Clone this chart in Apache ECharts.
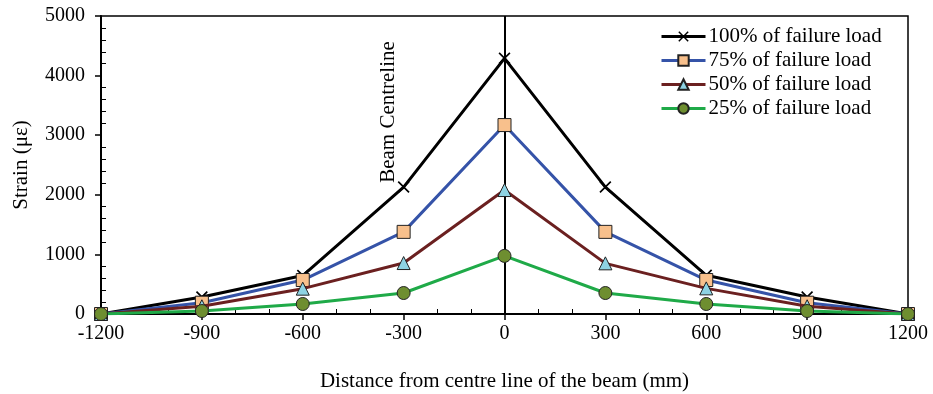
<!DOCTYPE html>
<html><head><meta charset="utf-8">
<script src="https://cdn.jsdelivr.net/npm/echarts@6/dist/echarts.min.js"></script>
<style>html,body{margin:0;padding:0;background:#fff}#c{width:933px;height:394px}</style>
</head><body><div id="c"></div>
<script>
const xValues = [-1200, -900, -600, -300, 0, 300, 600, 900, 1200];
const load100 = [0, 285, 645, 2130, 4290, 2130, 650, 285, 0];
const load75  = [0, 190, 570, 1378, 3170, 1378, 570, 190, 0];
const load50  = [0, 130, 425, 855, 2080, 850, 430, 130, 0];
const load25  = [0, 50, 168, 352, 975, 352, 168, 50, 0];
const seriesNames = ['100% of failure load','75% of failure load','50% of failure load','25% of failure load'];
const xTitle = 'Distance from centre line of the beam (mm)';
const yTitle = 'Strain (\u03bc\u03b5)';
const centreLabel = 'Beam Centreline';

const FONT = 'Liberation Serif';
const pair = arr => xValues.map((x,i)=>[x,arr[i]]);
const cross = 'path://M0,1L1,0L5,4L9,0L10,1L6,5L10,9L9,10L5,6L1,10L0,9L4,5Z';
const plain = v => String(v);

const chart = echarts.init(document.getElementById('c'));
chart.setOption({
  animation:false,
  grid:{left:101,right:25,top:16,bottom:80,outerBoundsMode:'none',containLabel:false,show:true,borderColor:'#000',borderWidth:1.5,backgroundColor:'transparent'},
  legend:{
    left:655, top:21, orient:'vertical', itemGap:3, itemWidth:44, itemHeight:13,
    lineStyle:{width:3},
    textStyle:{fontFamily:FONT,fontSize:21,color:'#000',padding:[0,0,0,-2]},
    data:seriesNames
  },
  xAxis:{
    type:'value', min:-1200, max:1200, interval:300,
    name:xTitle, nameLocation:'middle', nameGap:57,
    nameTextStyle:{fontFamily:FONT,fontSize:21,color:'#000'},
    axisLine:{onZero:false,lineStyle:{color:'#000',width:2}},
    axisTick:{show:true,length:6,lineStyle:{color:'#000',width:1.5}},
    minorTick:{show:true,splitNumber:3,length:-5,lineStyle:{color:'#000',width:1}},
    axisLabel:{fontFamily:FONT,fontSize:20,color:'#000',margin:10,formatter:plain},
    splitLine:{show:false}
  },
  yAxis:{
    type:'value', min:0, max:5000, interval:1000,
    name:yTitle, nameLocation:'middle', nameGap:69,
    nameTextStyle:{fontFamily:FONT,fontSize:21,color:'#000'},
    axisLine:{onZero:false,lineStyle:{color:'#000',width:2}},
    axisTick:{show:true,length:6,lineStyle:{color:'#000',width:1.5}},
    minorTick:{show:true,splitNumber:5,length:-5,lineStyle:{color:'#000',width:1}},
    axisLabel:{fontFamily:FONT,fontSize:20,color:'#000',margin:16,formatter:plain},
    splitLine:{show:false}
  },
  series:[
    {name:seriesNames[0],type:'line',data:pair(load100),symbol:cross,symbolSize:12,z:5,
     lineStyle:{color:'#000',width:3},itemStyle:{color:'#000'},
     markLine:{silent:true,symbol:'none',label:{show:false},lineStyle:{color:'#000',width:2,type:'solid'},data:[{xAxis:0}]}},
    {name:seriesNames[1],type:'line',data:pair(load75),symbol:'rect',symbolSize:13,z:6,
     lineStyle:{color:'#3553A8',width:3},itemStyle:{color:'#F8C08C',borderColor:'#222',borderWidth:1}},
    {name:seriesNames[2],type:'line',data:pair(load50),symbol:'triangle',symbolSize:13,z:7,
     lineStyle:{color:'#6B2020',width:3},itemStyle:{color:'#8ED3E3',borderColor:'#222',borderWidth:1}},
    {name:seriesNames[3],type:'line',data:pair(load25),symbol:'circle',symbolSize:13,z:8,
     lineStyle:{color:'#1FAA48',width:3},itemStyle:{color:'#6E8E30',borderColor:'#222',borderWidth:1}}
  ],
  graphic:[{
    type:'text', x:388, y:112, rotation:Math.PI/2,
    style:{text:centreLabel,fontFamily:FONT,fontSize:21,fill:'#000',align:'center',verticalAlign:'middle'}
  }]
});
</script></body></html>
